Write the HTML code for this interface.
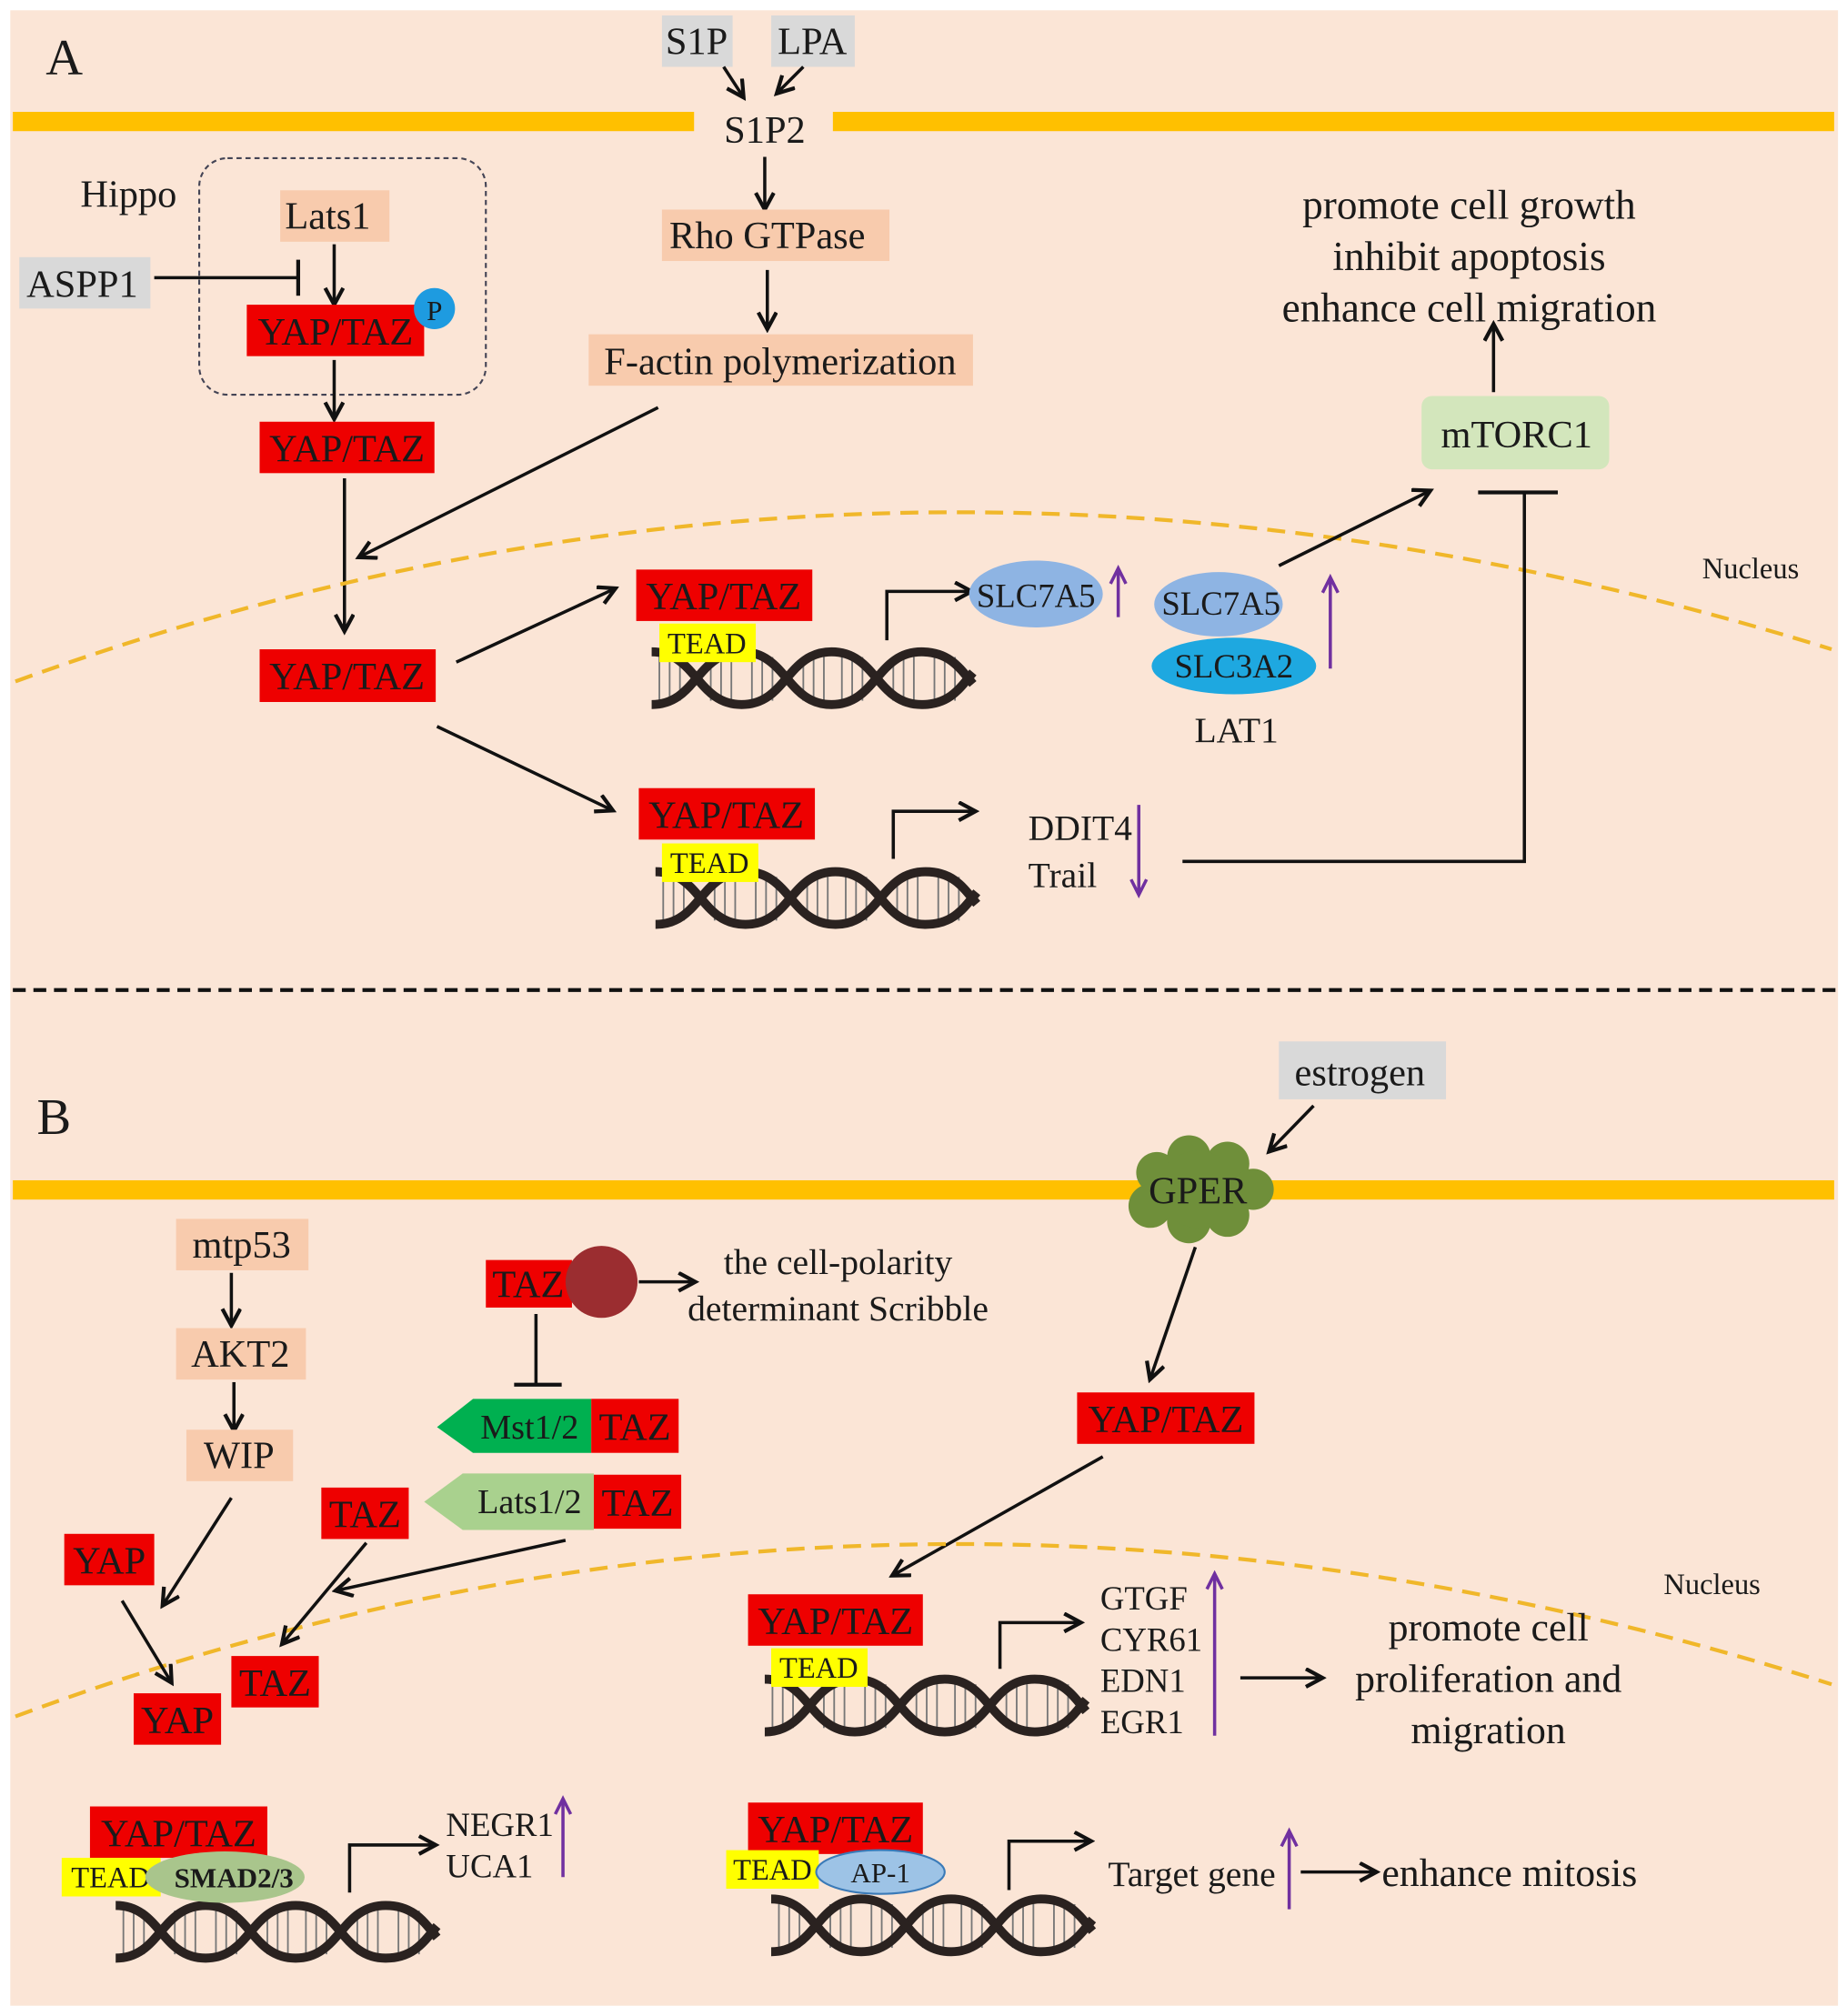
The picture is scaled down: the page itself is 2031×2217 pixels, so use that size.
<!DOCTYPE html>
<html><head><meta charset="utf-8"><style>html,body{margin:0;padding:0;background:#fff}svg{display:block}text{font-family:"Liberation Serif",serif;fill:#1a1a1a}</style></head>
<body>
<svg width="2031" height="2217" viewBox="0 0 1437 1568" preserveAspectRatio="none" xmlns="http://www.w3.org/2000/svg" font-family="Liberation Serif, serif">
<defs>
<marker id="a" markerUnits="userSpaceOnUse" markerWidth="18" markerHeight="18" refX="14" refY="8" orient="auto"><path d="M2,1 L15,8 L2,15" fill="none" stroke="#111" stroke-width="3"/></marker>
<marker id="p" markerUnits="userSpaceOnUse" markerWidth="18" markerHeight="18" refX="14" refY="8" orient="auto"><path d="M3,2 L15,8 L3,14" fill="none" stroke="#7030a0" stroke-width="2.5"/></marker>
<g id="dna">
<g stroke="#777" stroke-width="1.3">
<line x1="6" y1="6" x2="6" y2="40"/><line x1="14" y1="6" x2="14" y2="40"/><line x1="22" y1="6" x2="22" y2="40"/><line x1="46" y1="6" x2="46" y2="40"/><line x1="54" y1="6" x2="54" y2="40"/><line x1="62" y1="6" x2="62" y2="40"/><line x1="78" y1="6" x2="78" y2="40"/><line x1="86" y1="6" x2="86" y2="40"/><line x1="94" y1="6" x2="94" y2="40"/><line x1="118" y1="6" x2="118" y2="40"/><line x1="126" y1="6" x2="126" y2="40"/><line x1="134" y1="6" x2="134" y2="40"/><line x1="148" y1="6" x2="148" y2="40"/><line x1="156" y1="6" x2="156" y2="40"/><line x1="164" y1="6" x2="164" y2="40"/><line x1="188" y1="6" x2="188" y2="40"/><line x1="196" y1="6" x2="196" y2="40"/><line x1="204" y1="6" x2="204" y2="40"/><line x1="220" y1="6" x2="220" y2="40"/><line x1="228" y1="6" x2="228" y2="40"/><line x1="236" y1="6" x2="236" y2="40"/>
</g>
<path d="M0,2 C35,2 35,43 70,43 C105,43 105,2 140,2 C175,2 175,43 210,43 C232,43 240,30 250,18" fill="none" stroke="#2a2220" stroke-width="7"/>
<path d="M0,43 C35,43 35,2 70,2 C105,2 105,43 140,43 C175,43 175,2 210,2 C232,2 240,15 250,27" fill="none" stroke="#2a2220" stroke-width="7"/>
</g>
</defs>
<rect x="8" y="8" width="1422" height="1552" fill="#fbe5d6"/>
<g font-size="30" text-anchor="middle">
<!-- Panel A -->
<text x="50" y="58" font-size="40" text-anchor="middle">A</text>
<rect x="515" y="12" width="55" height="40" fill="#d9d9d9"/><text x="542" y="42">S1P</text>
<rect x="600" y="12" width="65" height="40" fill="#d9d9d9"/><text x="632" y="42">LPA</text>
<line x1="563" y1="52" x2="578" y2="75" stroke="#111" stroke-width="2.5" marker-end="url(#a)"/>
<line x1="625" y1="52" x2="605" y2="72" stroke="#111" stroke-width="2.5" marker-end="url(#a)"/>
<rect x="10" y="87" width="530" height="15" fill="#ffc000"/><rect x="648" y="87" width="779" height="15" fill="#ffc000"/>
<text x="595" y="111">S1P2</text>
<line x1="595" y1="122" x2="595" y2="162" stroke="#111" stroke-width="2.5" marker-end="url(#a)"/>
<rect x="515" y="163" width="177" height="40" fill="#f8cbad"/><text x="597" y="193">Rho GTPase</text>
<line x1="597" y1="210" x2="597" y2="255" stroke="#111" stroke-width="2.5" marker-end="url(#a)"/>
<rect x="458" y="260" width="299" height="40" fill="#f8cbad"/><text x="607" y="291">F-actin polymerization</text>
<rect x="155" y="123" width="223" height="184" rx="22" fill="none" stroke="#445" stroke-width="1.5" stroke-dasharray="4 3"/>
<text x="100" y="161">Hippo</text>
<rect x="218" y="148" width="85" height="40" fill="#f8cbad"/><text x="255" y="178">Lats1</text>
<rect x="15" y="200" width="102" height="40" fill="#d9d9d9"/><text x="64" y="231">ASPP1</text>
<line x1="120" y1="216" x2="232" y2="216" stroke="#111" stroke-width="2.5"/><line x1="232" y1="202" x2="232" y2="230" stroke="#111" stroke-width="3"/>
<line x1="260" y1="190" x2="260" y2="236" stroke="#111" stroke-width="2.5" marker-end="url(#a)"/>
<rect x="192" y="237" width="138" height="40" fill="#e00"/><text x="261" y="268">YAP/TAZ</text>
<circle cx="338" cy="240" r="16" fill="#1e9be0"/><text x="338" y="249" font-size="22">P</text>
<line x1="260" y1="280" x2="260" y2="325" stroke="#111" stroke-width="2.5" marker-end="url(#a)"/>
<rect x="202" y="328" width="136" height="40" fill="#e00"/><text x="270" y="359">YAP/TAZ</text>
<line x1="268" y1="372" x2="268" y2="490" stroke="#111" stroke-width="2.5" marker-end="url(#a)"/>
<line x1="512" y1="317" x2="280" y2="433" stroke="#111" stroke-width="2.5" marker-end="url(#a)"/>
<path d="M12,530 Q700,280 1425,505" fill="none" stroke="#f0b72a" stroke-width="3" stroke-dasharray="14 8"/>
<text x="1362" y="450" font-size="23">Nucleus</text>
<rect x="202" y="505" width="137" height="41" fill="#e00"/><text x="270" y="536">YAP/TAZ</text>
<line x1="355" y1="515" x2="478" y2="458" stroke="#111" stroke-width="2.5" marker-end="url(#a)"/>
<line x1="340" y1="565" x2="476" y2="630" stroke="#111" stroke-width="2.5" marker-end="url(#a)"/>
<use href="#dna" x="507" y="505"/>
<rect x="495" y="443" width="137" height="40" fill="#e00"/><text x="563" y="474">YAP/TAZ</text>
<rect x="513" y="485" width="75" height="30" fill="#ffff00"/><text x="550" y="508" font-size="23">TEAD</text>
<path d="M690,498 V460 H755" fill="none" stroke="#111" stroke-width="2.5" marker-end="url(#a)"/>
<ellipse cx="806" cy="462" rx="52" ry="26" fill="#8eb4e3"/><text x="806" y="472" font-size="26">SLC7A5</text>
<line x1="870" y1="480" x2="870" y2="443" stroke="#7030a0" stroke-width="2.5" marker-end="url(#p)"/>
<ellipse cx="960" cy="518" rx="64" ry="22" fill="#1ea8e0"/><text x="960" y="527" font-size="26">SLC3A2</text>
<ellipse cx="948" cy="470" rx="50" ry="25" fill="#8eb4e3"/><text x="950" y="478" font-size="26">SLC7A5</text>
<text x="962" y="577" font-size="28">LAT1</text>
<line x1="1035" y1="520" x2="1035" y2="450" stroke="#7030a0" stroke-width="2.5" marker-end="url(#p)"/>
<line x1="995" y1="440" x2="1112" y2="382" stroke="#111" stroke-width="2.5" marker-end="url(#a)"/>
<rect x="1106" y="308" width="146" height="57" rx="8" fill="#d3e6bc"/><text x="1180" y="348">mTORC1</text>
<line x1="1162" y1="305" x2="1162" y2="253" stroke="#111" stroke-width="2.5" marker-end="url(#a)"/>
<g font-size="32"><text x="1143" y="170">promote cell growth</text>
<text x="1143" y="210">inhibit apoptosis</text>
<text x="1143" y="250">enhance cell migration</text></g>
<line x1="1150" y1="383" x2="1212" y2="383" stroke="#111" stroke-width="3"/>
<path d="M1186,383 V670 H920" fill="none" stroke="#111" stroke-width="2.5"/>
<use href="#dna" x="510" y="676"/>
<rect x="497" y="613" width="137" height="40" fill="#e00"/><text x="565" y="644">YAP/TAZ</text>
<rect x="515" y="656" width="75" height="30" fill="#ffff00"/><text x="552" y="679" font-size="23">TEAD</text>
<path d="M695,668 V631 H758" fill="none" stroke="#111" stroke-width="2.5" marker-end="url(#a)"/>
<text x="800" y="653" font-size="28" text-anchor="start">DDIT4</text>
<text x="800" y="690" font-size="28" text-anchor="start">Trail</text>
<line x1="886" y1="626" x2="886" y2="695" stroke="#7030a0" stroke-width="2.5" marker-end="url(#p)"/>
<line x1="10" y1="770" x2="1428" y2="770" stroke="#111" stroke-width="3" stroke-dasharray="10 6"/>
<!-- Panel B -->
<text x="42" y="882" font-size="40">B</text>
<rect x="995" y="810" width="130" height="45" fill="#d9d9d9"/><text x="1058" y="844">estrogen</text>
<line x1="1022" y1="860" x2="988" y2="895" stroke="#111" stroke-width="2.5" marker-end="url(#a)"/>
<rect x="10" y="918" width="1417" height="15" fill="#ffc000"/>
<g fill="#6f8f3a"><circle cx="900" cy="912" r="16"/><circle cx="925" cy="900" r="17"/><circle cx="955" cy="905" r="17"/><circle cx="975" cy="925" r="16"/><circle cx="955" cy="945" r="17"/><circle cx="925" cy="950" r="17"/><circle cx="895" cy="938" r="17"/><circle cx="932" cy="925" r="30"/></g>
<text x="932" y="936">GPER</text>
<line x1="930" y1="970" x2="895" y2="1072" stroke="#111" stroke-width="2.5" marker-end="url(#a)"/>
<rect x="838" y="1083" width="138" height="40" fill="#e00"/><text x="907" y="1114">YAP/TAZ</text>
<line x1="858" y1="1133" x2="695" y2="1225" stroke="#111" stroke-width="2.5" marker-end="url(#a)"/>
<path d="M12,1335 Q700,1080 1425,1310" fill="none" stroke="#f0b72a" stroke-width="3" stroke-dasharray="14 8"/>
<text x="1332" y="1240" font-size="23">Nucleus</text>
<rect x="137" y="948" width="103" height="40" fill="#f8cbad"/><text x="188" y="978">mtp53</text>
<line x1="180" y1="990" x2="180" y2="1030" stroke="#111" stroke-width="2.5" marker-end="url(#a)"/>
<rect x="137" y="1033" width="101" height="40" fill="#f8cbad"/><text x="187" y="1063">AKT2</text>
<line x1="182" y1="1075" x2="182" y2="1112" stroke="#111" stroke-width="2.5" marker-end="url(#a)"/>
<rect x="145" y="1112" width="83" height="40" fill="#f8cbad"/><text x="186" y="1142">WIP</text>
<line x1="180" y1="1165" x2="127" y2="1248" stroke="#111" stroke-width="2.5" marker-end="url(#a)"/>
<rect x="50" y="1193" width="70" height="40" fill="#e00"/><text x="85" y="1224">YAP</text>
<line x1="95" y1="1245" x2="133" y2="1308" stroke="#111" stroke-width="2.5" marker-end="url(#a)"/>
<rect x="104" y="1317" width="68" height="40" fill="#e00"/><text x="138" y="1348">YAP</text>
<rect x="250" y="1157" width="68" height="40" fill="#e00"/><text x="284" y="1188">TAZ</text>
<line x1="285" y1="1200" x2="220" y2="1278" stroke="#111" stroke-width="2.5" marker-end="url(#a)"/>
<rect x="180" y="1288" width="68" height="40" fill="#e00"/><text x="214" y="1319">TAZ</text>
<line x1="440" y1="1198" x2="262" y2="1237" stroke="#111" stroke-width="2.5" marker-end="url(#a)"/>
<rect x="378" y="980" width="67" height="37" fill="#e00"/><text x="411" y="1009">TAZ</text>
<circle cx="468" cy="997" r="28" fill="#9b2d30"/>
<line x1="497" y1="997" x2="540" y2="997" stroke="#111" stroke-width="2.5" marker-end="url(#a)"/>
<text x="652" y="991" font-size="28">the cell-polarity</text>
<text x="652" y="1027" font-size="28">determinant Scribble</text>
<line x1="417" y1="1022" x2="417" y2="1077" stroke="#111" stroke-width="2.5"/><line x1="400" y1="1077" x2="437" y2="1077" stroke="#111" stroke-width="3"/>
<polygon points="340,1110 368,1088 460,1088 460,1130 368,1130" fill="#00b050"/><text x="412" y="1119" font-size="27">Mst1/2</text>
<rect x="460" y="1088" width="68" height="42" fill="#e00"/><text x="494" y="1120">TAZ</text>
<polygon points="330,1168 360,1146 462,1146 462,1190 360,1190" fill="#a9d18e"/><text x="412" y="1177" font-size="27">Lats1/2</text>
<rect x="462" y="1147" width="68" height="42" fill="#e00"/><text x="496" y="1179">TAZ</text>
<use href="#dna" x="595" y="1304"/>
<rect x="582" y="1240" width="136" height="40" fill="#e00"/><text x="650" y="1271">YAP/TAZ</text>
<rect x="600" y="1282" width="75" height="30" fill="#ffff00"/><text x="637" y="1305" font-size="23">TEAD</text>
<path d="M778,1298 V1262 H840" fill="none" stroke="#111" stroke-width="2.5" marker-end="url(#a)"/>
<g font-size="26" text-anchor="start"><text x="856" y="1252">GTGF</text><text x="856" y="1284">CYR61</text><text x="856" y="1316">EDN1</text><text x="856" y="1348">EGR1</text></g>
<line x1="945" y1="1350" x2="945" y2="1225" stroke="#7030a0" stroke-width="2.5" marker-end="url(#p)"/>
<line x1="965" y1="1305" x2="1028" y2="1305" stroke="#111" stroke-width="2.5" marker-end="url(#a)"/>
<g font-size="31"><text x="1158" y="1276">promote cell</text><text x="1158" y="1316">proliferation and</text><text x="1158" y="1356">migration</text></g>
<use href="#dna" x="90" y="1480"/>
<rect x="70" y="1405" width="138" height="40" fill="#e00"/><text x="139" y="1436">YAP/TAZ</text>
<rect x="48" y="1445" width="77" height="30" fill="#ffff00"/><text x="86" y="1468" font-size="23">TEAD</text>
<ellipse cx="175" cy="1460" rx="62" ry="20" fill="#a9c58c"/><text x="182" y="1468" font-size="22" font-weight="bold">SMAD2/3</text>
<path d="M272,1472 V1435 H338" fill="none" stroke="#111" stroke-width="2.5" marker-end="url(#a)"/>
<text x="347" y="1428" font-size="26" text-anchor="start">NEGR1</text><text x="347" y="1460" font-size="26" text-anchor="start">UCA1</text>
<line x1="438" y1="1460" x2="438" y2="1400" stroke="#7030a0" stroke-width="2.5" marker-end="url(#p)"/>
<use href="#dna" x="600" y="1475"/>
<rect x="582" y="1402" width="136" height="40" fill="#e00"/><text x="650" y="1433">YAP/TAZ</text>
<rect x="565" y="1439" width="72" height="30" fill="#ffff00"/><text x="601" y="1462" font-size="23">TEAD</text>
<ellipse cx="685" cy="1456" rx="50" ry="17" fill="#9dc3e6" stroke="#3a7ab8" stroke-width="1.5"/><text x="685" y="1464" font-size="22">AP-1</text>
<path d="M785,1470 V1432 H848" fill="none" stroke="#111" stroke-width="2.5" marker-end="url(#a)"/>
<text x="862" y="1467" font-size="28" text-anchor="start">Target gene</text>
<line x1="1003" y1="1485" x2="1003" y2="1425" stroke="#7030a0" stroke-width="2.5" marker-end="url(#p)"/>
<line x1="1012" y1="1456" x2="1070" y2="1456" stroke="#111" stroke-width="2.5" marker-end="url(#a)"/>
<text x="1075" y="1467" font-size="31" text-anchor="start">enhance mitosis</text>
</g>
</svg>
</body></html>
